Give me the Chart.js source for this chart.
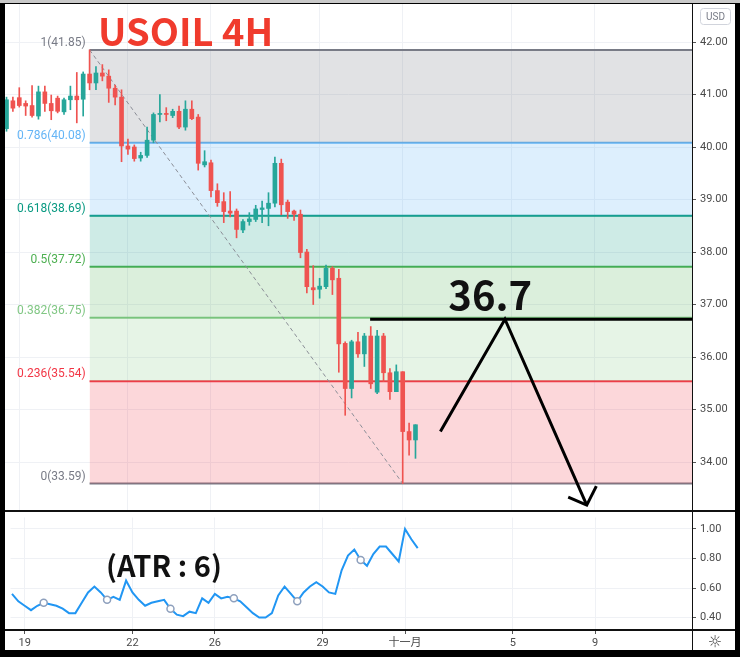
<!DOCTYPE html>
<html>
<head>
<meta charset="utf-8">
<title>USOIL 4H</title>
<script src="https://cdn.jsdelivr.net/npm/chart.js@4.4.1/dist/chart.umd.min.js"></script>
<style>
  html, body { margin: 0; padding: 0; background: #000; }
  #frame { position: relative; width: 740px; height: 657px; background: #000; overflow: hidden; }
  #topline { position: absolute; left: 0; top: 0; width: 740px; height: 3px; background: #c9c9c9; }
  #inner { position: absolute; left: 5px; top: 4px; width: 730px; height: 646px; background: #fff; }
  #price { position: absolute; left: 0; top: 0; }
  #atr { position: absolute; left: 0; top: 508px; }
  .sep { position: absolute; background: #111; }
</style>
</head>
<body>
<div id="frame">
  <div id="topline"></div>
  <div id="inner">
    <canvas id="price" width="730" height="507"></canvas>
    <canvas id="atr" width="730" height="138"></canvas>
    <div class="sep" style="left:0;top:506px;width:730px;height:2px"></div>
    <div class="sep" style="left:0;top:625px;width:730px;height:2px"></div>
    <div class="sep" style="left:687px;top:0;width:1px;height:646px"></div>
  </div>
</div>
<script>
// 4H candles, one per index
const candleOpen  = [40.35,40.88,40.94,40.83,40.79,40.59,41.05,40.83,40.93,40.67,40.90,40.97,40.91,41.39,41.22,41.41,41.35,41.12,40.95,40.02,40.00,39.79,39.84,40.13,40.62,40.64,40.60,40.68,40.38,40.72,40.57,39.66,39.70,39.17,38.96,38.78,38.78,38.42,38.58,38.62,38.81,38.83,38.93,39.69,38.95,38.78,38.72,38.00,37.32,37.29,37.34,37.69,37.50,36.26,35.40,36.29,36.06,36.40,35.33,36.40,35.70,35.34,35.72,34.58,34.42];
const candleHigh  = [40.95,40.95,41.13,40.88,41.17,41.16,41.16,40.99,40.97,40.93,41.16,41.42,41.43,41.85,41.53,41.57,41.47,41.18,41.09,40.15,40.04,39.90,40.38,40.65,41.00,40.75,40.72,40.78,40.88,40.88,40.62,39.93,39.75,39.30,39.13,39.15,38.82,38.62,38.75,38.89,38.97,39.13,39.81,39.77,38.99,38.80,38.80,38.05,37.74,37.50,37.75,37.72,37.67,36.29,36.32,36.47,36.45,36.58,36.51,36.45,35.78,35.85,35.72,34.74,34.71];
const candleLow   = [40.30,40.68,40.76,40.60,40.57,40.53,40.68,40.52,40.65,40.62,40.71,40.46,40.59,41.09,41.09,41.26,40.85,40.80,39.72,39.86,39.73,39.73,39.80,40.08,40.48,40.50,40.56,40.35,40.32,40.52,39.56,39.62,39.05,38.87,38.56,38.67,38.27,38.37,38.51,38.58,38.56,38.50,38.86,38.71,38.64,38.60,37.89,37.22,37.00,37.12,37.30,37.19,35.71,34.89,35.22,35.99,35.82,35.40,35.30,35.53,35.19,35.34,33.59,34.13,34.07];
const candleClose = [40.90,40.74,40.79,40.78,40.60,41.05,40.83,40.69,40.68,40.90,40.97,40.90,41.39,41.22,41.41,41.35,41.12,40.95,40.02,39.96,39.78,39.84,40.13,40.62,40.64,40.62,40.68,40.38,40.72,40.54,39.69,39.72,39.17,38.94,38.77,38.74,38.43,38.58,38.63,38.82,38.84,38.93,39.69,38.90,38.77,38.72,37.99,37.34,37.28,37.35,37.69,37.47,36.25,35.40,36.29,36.06,36.40,35.49,36.40,35.70,35.34,35.72,34.58,34.42,34.71];

// ATR(6)
const atrValues = [0.56,0.51,0.48,0.45,0.48,0.50,0.49,0.48,0.46,0.43,0.43,0.50,0.57,0.61,0.57,0.52,0.54,0.52,0.65,0.57,0.52,0.48,0.50,0.51,0.52,0.46,0.42,0.41,0.44,0.43,0.53,0.50,0.56,0.53,0.54,0.53,0.51,0.47,0.43,0.40,0.40,0.43,0.55,0.61,0.56,0.51,0.57,0.61,0.64,0.61,0.57,0.56,0.72,0.82,0.86,0.79,0.75,0.83,0.88,0.88,0.83,0.78,1.00,0.93,0.87];
const atrMarkIdx = [5,15,25,35,45,55];

// fib retracement
const fibRatios = ['1','0.786','0.618','0.5','0.382','0.236','0'];
const fibLevels = [41.85,40.08,38.69,37.72,36.75,35.54,33.59];
const fibStartIdx = 13;
const fibEndIdx = 62;

// hand drawn target
const targetLevel = 36.72;
const targetStartIdx = 56.9;
const zigzagIdx = [67.9, 78.0, 90.8];
const zigzagPrice = [34.58, 36.72, 33.18];
const arrowIdx = [87.9, 90.8, 92.3];
const arrowPrice = [33.33, 33.18, 33.54];

// axes
const dateTickIdx = [2,19,32,49,62,79,92];
const dateTickLabels = ['19','22','26','29','十一月','5','9'];
const priceTicks = [34,35,36,37,38,39,40,41,42];
const atrTicks = [0.4,0.6,0.8,1.0];

const xMin = -0.235, xMax = 107.27;
const priceMin = 33.067, priceMax = 42.724;
const atrMin = 0.316, atrMax = 1.077;

const upColor = '#26a69a', downColor = '#ef5350';
const fibLineColors = ['#787b86','#64b5f6','#089981','#4caf50','#81c784','#f23645','#787b86'];
const fibFillColors = ['rgba(120,123,134,0.22)','rgba(100,181,246,0.22)','rgba(8,153,129,0.2)','rgba(76,175,80,0.2)','rgba(129,199,132,0.2)','rgba(242,54,69,0.2)',''];
const gridColor = '#eff1f5';
const axisText = '#4a4a4a';
const axisFont = { family: 'Roboto, "Noto Sans CJK SC"', size: 11 };

const idx = candleOpen.map((_, i) => i);
const candleColors = idx.map(i => candleClose[i] >= candleOpen[i] ? upColor : downColor);

const fibSets = fibLevels.map((v, k) => ({
  type: 'line',
  data: [{ x: fibStartIdx, y: v }, { x: xMax, y: v }],
  borderColor: fibLineColors[k],
  borderWidth: 2,
  pointRadius: 0,
  fill: k < fibLevels.length - 1 ? '+1' : false,
  backgroundColor: fibFillColors[k],
  order: 10
}));

const priceOverlay = {
  id: 'priceOverlay',
  afterDraw(chart) {
    const { ctx, scales: { x, y } } = chart;
    ctx.save();
    ctx.font = '12px Roboto';
    ctx.textAlign = 'right';
    ctx.textBaseline = 'bottom';
    fibLevels.forEach((v, k) => {
      ctx.fillStyle = fibLineColors[k];
      ctx.fillText(fibRatios[k] + '(' + v.toFixed(2) + ')', x.getPixelForValue(fibStartIdx) - 4, y.getPixelForValue(v) - 1);
    });
    ctx.textBaseline = 'alphabetic';
    ctx.textAlign = 'center';
    ctx.fillStyle = '#111';
    ctx.font = 'bold 40px "Noto Sans CJK SC"';
    ctx.fillText('36.7', x.getPixelForValue(75.7), y.getPixelForValue(targetLevel) - 9);
    ctx.textAlign = 'left';
    ctx.fillStyle = '#f03b2d';
    ctx.font = 'bold 38px "Noto Sans CJK SC"';
    ctx.fillText('USOIL 4H', 93, 42);
    // USD badge
    ctx.strokeStyle = '#d1d4dc';
    ctx.lineWidth = 1;
    ctx.beginPath();
    ctx.roundRect(695.5, 4.5, 30, 16, 3);
    ctx.stroke();
    ctx.fillStyle = '#787b86';
    ctx.font = '10px Roboto';
    ctx.textAlign = 'center';
    ctx.textBaseline = 'middle';
    ctx.fillText('USD', 710.5, 13);
    ctx.restore();
  }
};

const atrOverlay = {
  id: 'atrOverlay',
  afterDraw(chart) {
    const ctx = chart.ctx;
    ctx.save();
    ctx.fillStyle = '#111';
    ctx.font = 'bold 29px "Noto Sans CJK SC"';
    ctx.textAlign = 'left';
    ctx.textBaseline = 'alphabetic';
    ctx.fillText('(ATR : 6)', 101, 65);
    ctx.fillStyle = '#444';
    ctx.font = '16px "DejaVu Sans"';
    ctx.textAlign = 'center';
    ctx.textBaseline = 'middle';
    ctx.fillText('☼', 710, 131);
    ctx.restore();
  }
};

const common = {
  responsive: false,
  animation: false,
  devicePixelRatio: 1,
  events: [],
  layout: { padding: 0 },
  plugins: { legend: { display: false }, tooltip: { enabled: false } }
};

function fitY(s) {
  s.width = 43;
  s.paddingTop = 0;
  s.paddingBottom = 0;
}

new Chart(document.getElementById('price'), {
  type: 'bar',
  data: {
    datasets: [
      ...fibSets,
      {
        type: 'line',
        data: [{ x: fibStartIdx, y: fibLevels[0] }, { x: fibEndIdx, y: fibLevels[6] }],
        borderColor: '#8a8d96', borderWidth: 1, borderDash: [4, 3], pointRadius: 0, fill: false, order: 5
      },
      {
        type: 'bar',
        data: idx.map(i => ({ x: i, y: [candleLow[i], candleHigh[i]] })),
        backgroundColor: candleColors, barThickness: 1, grouped: false, order: 2
      },
      {
        type: 'bar',
        data: idx.map(i => ({ x: i, y: [candleOpen[i], candleClose[i]] })),
        backgroundColor: candleColors, barThickness: 4, grouped: false, order: 1
      },
      {
        type: 'line',
        data: [{ x: targetStartIdx, y: targetLevel }, { x: xMax, y: targetLevel }],
        borderColor: '#000', borderWidth: 3, pointRadius: 0, fill: false, order: 0
      },
      {
        type: 'line',
        data: zigzagIdx.map((v, k) => ({ x: v, y: zigzagPrice[k] })),
        borderColor: '#000', borderWidth: 3, pointRadius: 0, fill: false, order: 0
      },
      {
        type: 'line',
        data: arrowIdx.map((v, k) => ({ x: v, y: arrowPrice[k] })),
        borderColor: '#000', borderWidth: 3, pointRadius: 0, fill: false, order: 0
      }
    ]
  },
  options: {
    ...common,
    scales: {
      x: {
        type: 'linear', min: xMin, max: xMax, bounds: 'data', offset: false,
        grid: { color: gridColor, offset: false, drawTicks: false },
        border: { display: false },
        ticks: { display: false },
        afterBuildTicks: s => { s.ticks = dateTickIdx.map(v => ({ value: v })); },
        afterFit: s => { s.height = 0; s.paddingLeft = 0; s.paddingRight = 0; }
      },
      y: {
        type: 'linear', position: 'right', min: priceMin, max: priceMax, bounds: 'data',
        grid: { color: gridColor, tickColor: '#555', tickLength: 4 },
        border: { display: false },
        ticks: { color: axisText, font: axisFont, padding: 4, callback: v => v.toFixed(2) },
        afterBuildTicks: s => { s.ticks = priceTicks.map(v => ({ value: v })); },
        afterFit: fitY
      }
    }
  },
  plugins: [priceOverlay]
});

new Chart(document.getElementById('atr'), {
  type: 'line',
  data: {
    datasets: [
      {
        data: atrValues.map((v, i) => ({ x: i, y: v })),
        borderColor: '#2196f3', borderWidth: 2, pointRadius: 0, tension: 0, fill: false, order: 1
      },
      {
        data: atrMarkIdx.map(i => ({ x: i, y: atrValues[i] })),
        showLine: false, pointRadius: 3.5, pointBackgroundColor: '#fff',
        pointBorderColor: '#8ea0bd', pointBorderWidth: 1.5, order: 0
      }
    ]
  },
  options: {
    ...common,
    scales: {
      x: {
        type: 'linear', min: xMin, max: xMax, bounds: 'data', offset: false,
        grid: { color: gridColor, tickColor: '#555', tickLength: 4 },
        border: { display: false },
        ticks: { color: axisText, font: axisFont, padding: 3, maxRotation: 0, autoSkip: false,
                 callback: (v, i) => dateTickLabels[i] },
        afterBuildTicks: s => { s.ticks = dateTickIdx.map(v => ({ value: v })); },
        afterFit: s => { s.height = 20; s.paddingLeft = 0; s.paddingRight = 0; }
      },
      y: {
        type: 'linear', position: 'right', min: atrMin, max: atrMax, bounds: 'data',
        grid: { color: gridColor, tickColor: '#555', tickLength: 4 },
        border: { display: false },
        ticks: { color: axisText, font: axisFont, padding: 4, callback: v => v.toFixed(2) },
        afterBuildTicks: s => { s.ticks = atrTicks.map(v => ({ value: v })); },
        afterFit: fitY
      }
    }
  },
  plugins: [atrOverlay]
});
</script>
</body>
</html>
